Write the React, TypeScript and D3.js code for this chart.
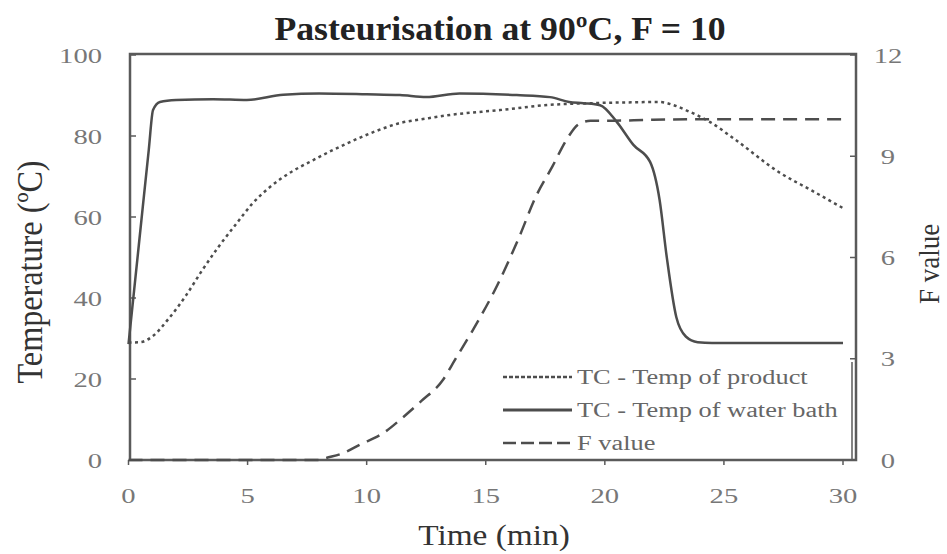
import React from "react";
import * as d3 from "d3";

const productTime = [0, 0.5, 1, 1.7, 2.4, 3.1, 3.8, 4.55, 5.2, 5.94, 6.8, 7.74, 8.5, 9.3, 10.3, 11.4, 12.5, 13.5, 15.6, 17.7, 19.4, 21, 22.3, 22.9, 23.4, 24.4, 25.5, 27.3, 28.7, 30];
const productTemp = [29, 29.1, 30.5, 35, 40.5, 46.9, 52.8, 58.5, 63.3, 67.4, 71, 74, 76.3, 78.5, 81, 83.2, 84.3, 85.2, 86.4, 87.7, 88.1, 88.3, 88.4, 87.6, 86.4, 83.5, 79, 71.1, 66.5, 62.2];

const bathTime = [0, 0.3, 0.6, 0.85, 1.03, 1.32, 2, 3.55, 4.97, 6.5, 8, 10, 11.4, 12.5, 13.9, 16.3, 17.7, 18.5, 19.1, 19.8, 20.5, 21.2, 21.9, 22.3, 22.6, 23.0, 23.4, 23.9, 24.5, 27, 30];
const bathTemp = [28.6, 45.5, 62.5, 76.5, 86.4, 88.4, 88.9, 89.1, 88.9, 90.2, 90.5, 90.3, 90.1, 89.6, 90.5, 90.1, 89.6, 88.4, 88.1, 87.6, 83.5, 77.8, 73.6, 64.2, 50.1, 35.3, 30.5, 29.1, 28.9, 28.9, 28.9];

const fTime = [0, 8, 8.3, 9, 9.7, 10.7, 11.5, 12.3, 13.2, 13.7, 14.5, 15.5, 16.4, 17.1, 17.8, 18.4, 18.9, 19.4, 20, 22, 25, 28, 30];
const fValue = [0, 0, 0.06, 0.2, 0.45, 0.8, 1.25, 1.75, 2.37, 2.96, 3.9, 5.2, 6.6, 7.8, 8.7, 9.5, 9.95, 10.05, 10.05, 10.08, 10.1, 10.1, 10.1];

const xTicks = [0, 5, 10, 15, 20, 25, 30];
const yTicks = [0, 20, 40, 60, 80, 100];
const y2Ticks = [0, 3, 6, 9, 12];

const legendLabels = ["TC - Temp of product", "TC - Temp of water bath", "F value"];
const legendDash = ["4,2", "none", "13,5"];

const serif = "'Liberation Serif', 'DejaVu Serif', serif";

function SText(props: { x: number; y: number; sx?: number; sy?: number; rotate?: number; size: number; anchor?: string; fill?: string; weight?: string; children: React.ReactNode }) {
  const { x, y, sx = 1, sy = 1, rotate = 0, size, anchor = "start", fill = "#333", weight = "normal", children } = props;
  return (
    <text
      transform={`translate(${x},${y}) rotate(${rotate}) scale(${sx},${sy})`}
      textAnchor={anchor}
      fontSize={size}
      fontWeight={weight}
      fill={fill}
      fontFamily={serif}
    >
      {children}
    </text>
  );
}

export default function App() {
  const W = 947, H = 554;
  const frameLeft = 130, frameRight = 856, top = 55, bottom = 460;
  const x = d3.scaleLinear().domain([0, 30]).range([128.5, 843]);
  const y = d3.scaleLinear().domain([0, 100]).range([bottom, top]);
  const y2 = d3.scaleLinear().domain([0, 12]).range([bottom, top]);

  const lineT = d3.line<[number, number]>().x(d => x(d[0])).y(d => y(d[1])).curve(d3.curveMonotoneX);
  const lineF = d3.line<[number, number]>().x(d => x(d[0])).y(d => y2(d[1])).curve(d3.curveMonotoneX);

  const prod = lineT(productTime.map((t, i) => [t, productTemp[i]]))!;
  const bath = lineT(bathTime.map((t, i) => [t, bathTemp[i]]))!;
  const fv = lineF(fTime.map((t, i) => [t, fValue[i]]))!;

  const lineColor = "#4d4d4d";
  const tickColor = "#777";
  const axisColor = "#5a5a5a";

  return (
    <svg width={W} height={H} style={{ position: "absolute", left: 0, top: 0, background: "#fff" }}>
      <rect x={0} y={0} width={W} height={H} fill="#fff" />
      <SText x={500} y={40} sx={1.05} size={34} weight="bold" anchor="middle" fill="#222">Pasteurisation at 90ºC, F = 10</SText>

      {/* frame */}
      <rect x={frameLeft} y={top - 1} width={frameRight - frameLeft} height={bottom - top + 1} fill="none" stroke={axisColor} strokeWidth={2.5} />

      {/* left axis ticks */}
      {yTicks.map(t => (
        <g key={"y" + t}>
          <line x1={frameLeft} x2={frameLeft + 6} y1={y(t)} y2={y(t)} stroke={axisColor} strokeWidth={1.5} />
          <SText x={102} y={y(t) + 7.5} sx={1.3} size={22} anchor="end" fill={tickColor}>{t}</SText>
        </g>
      ))}
      {/* right axis ticks */}
      {y2Ticks.map(t => (
        <g key={"r" + t}>
          <line x1={frameRight - 6} x2={frameRight} y1={y2(t)} y2={y2(t)} stroke={axisColor} strokeWidth={1.5} />
          <SText x={888} y={y2(t) + 7.5} sx={1.3} size={22} anchor="middle" fill={tickColor}>{t}</SText>
        </g>
      ))}
      {/* x axis ticks */}
      {xTicks.map(t => (
        <g key={"x" + t}>
          <line x1={x(t)} x2={x(t)} y1={bottom} y2={bottom + 5} stroke={axisColor} strokeWidth={1.5} />
          <SText x={x(t)} y={503} sx={1.3} size={22} anchor="middle" fill={tickColor}>{t}</SText>
        </g>
      ))}

      {/* series */}
      <path d={prod} fill="none" stroke={lineColor} strokeWidth={2.5} strokeDasharray="3,3.5" />
      <path d={fv} fill="none" stroke={lineColor} strokeWidth={2.5} strokeDasharray="14,8" />
      <path d={bath} fill="none" stroke={lineColor} strokeWidth={2.5} />

      {/* legend */}
      <line x1={852} x2={852} y1={362} y2={460} stroke={axisColor} strokeWidth={1.5} />
      {legendLabels.map((l, i) => (
        <g key={l}>
          <line x1={503} x2={572} y1={377 + i * 33} y2={377 + i * 33} stroke={lineColor} strokeWidth={i === 1 ? 3 : 2.5} strokeDasharray={legendDash[i]} />
          <SText x={577} y={384 + i * 33} sx={1.32} size={20} fill="#666">{l}</SText>
        </g>
      ))}

      {/* axis titles */}
      <SText x={42} y={272} rotate={-90} sx={1.15} sy={1.3} size={28} anchor="middle" fill="#333">Temperature (ºC)</SText>
      <SText x={494} y={545} sx={1.15} size={29} anchor="middle" fill="#333">Time (min)</SText>
      <SText x={939} y={264} rotate={-90} sx={1.0} sy={1.1} size={27} anchor="middle" fill="#333">F value</SText>
    </svg>
  );
}
